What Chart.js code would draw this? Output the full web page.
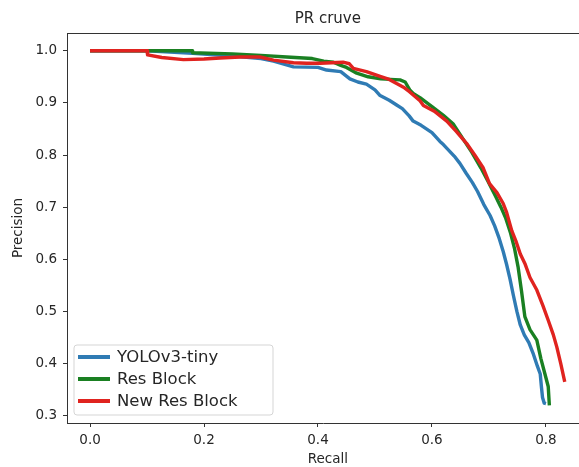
<!DOCTYPE html>
<html>
<head>
<meta charset="utf-8">
<script src="https://cdn.jsdelivr.net/npm/chart.js@4.4.1/dist/chart.umd.min.js"></script>
<style>
  html, body { margin: 0; padding: 0; background: #ffffff; overflow: hidden; }
  #wrap { position: relative; width: 579px; height: 467px; }
</style>
</head>
<body>
<div id="wrap"><canvas id="c" width="579" height="467"></canvas></div>
<script>
// ---- data ----
const titleText = "PR cruve";
const xLabel = "Recall";
const yLabel = "Precision";
const seriesNames = ["YOLOv3-tiny", "Res Block", "New Res Block"];

const xTicks = [0.0, 0.2, 0.4, 0.6, 0.8];
const yTicks = [0.3, 0.4, 0.5, 0.6, 0.7, 0.8, 0.9, 1.0];

const recallYolo = [0, 0.10, 0.18, 0.25, 0.30, 0.322, 0.357, 0.40, 0.415, 0.44, 0.456, 0.47, 0.485, 0.50, 0.509, 0.525, 0.538, 0.548, 0.56, 0.567, 0.581, 0.60, 0.614, 0.62, 0.639, 0.649, 0.66, 0.671, 0.68, 0.691, 0.702, 0.71, 0.718, 0.725, 0.731, 0.737, 0.743, 0.749, 0.755, 0.762, 0.77, 0.778, 0.785, 0.79, 0.792, 0.794, 0.797, 0.80];
const precisionYolo = [1.0, 1.0, 0.995, 0.99, 0.985, 0.98, 0.969, 0.968, 0.963, 0.96, 0.946, 0.94, 0.936, 0.925, 0.914, 0.905, 0.896, 0.889, 0.875, 0.865, 0.857, 0.843, 0.826, 0.82, 0.798, 0.784, 0.765, 0.747, 0.73, 0.705, 0.684, 0.664, 0.64, 0.615, 0.59, 0.562, 0.53, 0.50, 0.474, 0.455, 0.44, 0.418, 0.395, 0.38, 0.356, 0.335, 0.324, 0.323];

const recallRes = [0, 0.179, 0.18, 0.25, 0.30, 0.345, 0.39, 0.41, 0.427, 0.44, 0.45, 0.468, 0.488, 0.51, 0.544, 0.553, 0.561, 0.567, 0.579, 0.60, 0.62, 0.637, 0.655, 0.670, 0.686, 0.698, 0.712, 0.721, 0.729, 0.738, 0.745, 0.751, 0.757, 0.763, 0.772, 0.784, 0.791, 0.798, 0.804, 0.806];
const precisionRes = [1.0, 1.0, 0.996, 0.994, 0.991, 0.988, 0.985, 0.98, 0.978, 0.972, 0.968, 0.957, 0.95, 0.946, 0.944, 0.94, 0.925, 0.918, 0.91, 0.893, 0.876, 0.86, 0.83, 0.805, 0.775, 0.75, 0.72, 0.70, 0.68, 0.65, 0.62, 0.586, 0.54, 0.49, 0.465, 0.445, 0.41, 0.381, 0.356, 0.32];

const recallNewRes = [0, 0.10, 0.101, 0.126, 0.164, 0.20, 0.228, 0.263, 0.298, 0.322, 0.357, 0.38, 0.404, 0.444, 0.455, 0.462, 0.485, 0.509, 0.525, 0.538, 0.55, 0.561, 0.579, 0.585, 0.604, 0.626, 0.643, 0.661, 0.675, 0.69, 0.701, 0.714, 0.725, 0.731, 0.74, 0.747, 0.755, 0.763, 0.772, 0.784, 0.795, 0.804, 0.813, 0.819, 0.826, 0.833];
const precisionNewRes = [1.0, 1.0, 0.992, 0.987, 0.983, 0.984, 0.986, 0.988, 0.988, 0.982, 0.977, 0.976, 0.976, 0.978, 0.975, 0.966, 0.96, 0.951, 0.945, 0.937, 0.93, 0.921, 0.904, 0.895, 0.884, 0.865, 0.845, 0.822, 0.80, 0.775, 0.745, 0.728, 0.707, 0.69, 0.655, 0.636, 0.61, 0.592, 0.565, 0.541, 0.51, 0.483, 0.455, 0.432, 0.40, 0.365];

const seriesColors = ["#2f7bb4", "#1a8022", "#e0231f"];
const axisRightLimit = 0.875; // full x-limit of the original axes (right part is cropped)

// ---- build chart ----
function pts(xs, ys) { return xs.map((x, i) => ({ x: x, y: ys[i] })); }

const FONT = "'DejaVu Sans', sans-serif";
const TXT = "#262626";

const frameAndLegend = {
  id: "frameAndLegend",
  afterDraw(chart) {
    const ctx = chart.ctx;
    const a = chart.chartArea;
    const fullRight = chart.scales.x.getPixelForValue(axisRightLimit);
    const cx = (a.left + fullRight) / 2;
    ctx.save();
    // top spine
    ctx.strokeStyle = "#333333";
    ctx.lineWidth = 1;
    ctx.beginPath();
    ctx.moveTo(a.left, a.top + 0.5);
    ctx.lineTo(a.right, a.top + 0.5);
    ctx.stroke();

    // title and x label centred on the full (uncropped) axes
    ctx.fillStyle = TXT;
    ctx.textAlign = "center";
    ctx.textBaseline = "middle";
    ctx.font = "15px " + FONT;
    ctx.fillText(titleText, cx, 19);
    ctx.font = "13.5px " + FONT;
    ctx.fillText(xLabel, cx, 459);

    // legend box (lower left inside axes)
    const bx = a.left + 7, by = a.bottom - 78, bw = 199, bh = 70;
    const r = 3;
    ctx.beginPath();
    ctx.moveTo(bx + r, by);
    ctx.lineTo(bx + bw - r, by);
    ctx.quadraticCurveTo(bx + bw, by, bx + bw, by + r);
    ctx.lineTo(bx + bw, by + bh - r);
    ctx.quadraticCurveTo(bx + bw, by + bh, bx + bw - r, by + bh);
    ctx.lineTo(bx + r, by + bh);
    ctx.quadraticCurveTo(bx, by + bh, bx, by + bh - r);
    ctx.lineTo(bx, by + r);
    ctx.quadraticCurveTo(bx, by, bx + r, by);
    ctx.closePath();
    ctx.fillStyle = "rgba(255,255,255,0.85)";
    ctx.fill();
    ctx.strokeStyle = "#d5d5d5";
    ctx.stroke();

    ctx.font = "16.5px " + FONT;
    ctx.textAlign = "left";
    ctx.textBaseline = "middle";
    chart.data.datasets.forEach((ds, i) => {
      const ly = by + 12 + i * 22;
      ctx.strokeStyle = ds.borderColor;
      ctx.lineWidth = 4;
      ctx.beginPath();
      ctx.moveTo(bx + 4, ly);
      ctx.lineTo(bx + 36, ly);
      ctx.stroke();
      ctx.fillStyle = TXT;
      ctx.fillText(ds.label, bx + 43, ly + 1);
    });
    ctx.restore();
  }
};

new Chart(document.getElementById("c"), {
  type: "scatter",
  data: {
    datasets: [
      { label: seriesNames[0], data: pts(recallYolo, precisionYolo), order: 3 },
      { label: seriesNames[1], data: pts(recallRes, precisionRes), order: 2 },
      { label: seriesNames[2], data: pts(recallNewRes, precisionNewRes), order: 1 }
    ].map((d, i) => Object.assign(d, {
      showLine: true,
      borderColor: seriesColors[i],
      backgroundColor: seriesColors[i],
      borderWidth: 3.4,
      pointRadius: 0,
      tension: 0,
      borderJoinStyle: "round"
    }))
  },
  options: {
    responsive: false,
    animation: false,
    layout: { padding: { left: 0, right: 0, top: 33, bottom: 0 } },
    plugins: {
      legend: { display: false },
      tooltip: { enabled: false },
      title: { display: false }
    },
    scales: {
      x: {
        type: "linear",
        min: -0.0404,
        max: 0.858,
        afterFit(s) { s.height = 44; },
        afterBuildTicks(s) { s.ticks = xTicks.map(v => ({ value: v })); },
        border: { display: true, color: "#333333", width: 1 },
        grid: { drawOnChartArea: false, drawTicks: true, tickLength: 4, tickColor: "#333333" },
        ticks: {
          color: TXT, padding: 5,
          font: { family: FONT, size: 13.5 },
          callback: v => Number(v).toFixed(1)
        },
        title: { display: false }
      },
      y: {
        type: "linear",
        min: 0.286,
        max: 1.034,
        afterFit(s) { s.width = 67; },
        afterBuildTicks(s) { s.ticks = yTicks.map(v => ({ value: v })); },
        border: { display: true, color: "#333333", width: 1 },
        grid: { drawOnChartArea: false, drawTicks: true, tickLength: 4, tickColor: "#333333" },
        ticks: {
          color: TXT, padding: 6,
          font: { family: FONT, size: 13.5 },
          callback: v => Number(v).toFixed(1)
        },
        title: { display: true, text: yLabel, color: TXT, font: { family: FONT, size: 13.5 }, padding: { top: 10, bottom: 0 } }
      }
    }
  },
  plugins: [frameAndLegend]
});
</script>
</body>
</html>
